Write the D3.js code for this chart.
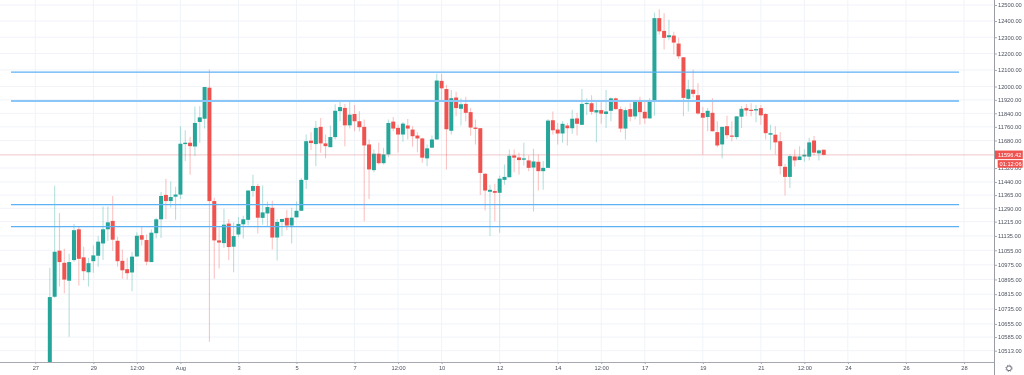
<!DOCTYPE html>
<html>
<head>
<meta charset="utf-8">
<script src="https://cdn.jsdelivr.net/npm/d3@7"></script>
<style>
  html, body { margin: 0; padding: 0; background: #fff; overflow: hidden; }
  svg { display: block; font-family: "Liberation Sans", Arial, sans-serif; }
</style>
</head>
<body>
<div id="chart"></div>
<script>
// 4h candles, first one is 27 Jul 12:00
const firstCandle = "2020-07-27T12:00:00";
const opens = [10400,10801,11053,10986,10888,11001,11172,11016,10934,10995,11025,11093,11172,11219,11108,10997,10951,10933,11021,11139,11112,10990,11150,11228,11366,11331,11356,11368,11659,11667,11645,11789,11808,11993,11331,11110,11095,11204,11075,11143,11200,11225,11389,11417,11236,11261,11293,11126,11213,11236,11193,11239,11276,11452,11679,11659,11760,11663,11641,11700,11853,11872,11769,11836,11793,11760,11657,11508,11603,11548,11599,11791,11754,11715,11768,11744,11709,11692,11576,11638,11686,12034,11985,11737,11934,11867,11896,11847,11756,11752,11487,11384,11388,11378,11452,11467,11593,11581,11568,11564,11523,11556,11502,11521,11799,11744,11721,11768,11752,11810,11772,11896,11900,11845,11859,11836,11855,11929,11865,11750,11865,11822,11915,11849,11810,11915,12418,12339,12300,12310,12261,12177,11926,11981,11948,11842,11818,11843,11729,11657,11764,11709,11700,11820,11871,11861,11857,11871,11836,11714,11714,11676,11527,11469,11587,11566,11587,11586,11680,11605,11626];
const highs = [10959,11418,11263,11064,11036,11202,11191,11075,11014,11082,11134,11300,11300,11360,11130,11060,11014,11045,11156,11189,11143,11171,11237,11382,11459,11442,11413,11764,11740,11702,11880,11884,11997,12102,11350,11182,11287,11230,11210,11241,11248,11391,11481,11430,11420,11328,11333,11230,11230,11282,11293,11328,11463,11715,11729,11795,11812,11715,11768,11894,11909,11896,11915,11890,11853,11803,11686,11628,11667,11638,11803,11818,11773,11789,11807,11764,11729,11696,11657,11709,12077,12077,12010,11979,11969,11929,11938,11871,11803,11754,11492,11424,11430,11477,11541,11628,11628,11609,11667,11593,11632,11599,11560,11807,11851,11783,11793,11783,11861,11843,11985,11929,11948,11913,11913,11979,11934,11934,11880,11874,11900,11915,11938,11919,11929,12453,12474,12449,12408,12333,12296,12179,12040,12102,12020,11877,11871,11929,11793,11760,11826,11793,11822,11884,11896,11900,11890,11890,11842,11773,11764,11729,11545,11599,11628,11647,11628,11696,11706,11628,11628];
const lows = [10380,10794,10857,10820,10587,10992,10862,10890,10857,10931,10964,11001,11106,11051,10964,10899,10894,10831,11020,11082,10973,10990,11121,11123,11230,11294,11226,11343,11560,11481,11589,11667,11750,10560,10899,10955,11069,11001,10934,11128,11121,11195,11356,11149,11198,11189,11060,10999,11134,11167,11093,11239,11276,11399,11624,11531,11609,11576,11641,11686,11793,11647,11750,11734,11733,11217,11343,11496,11541,11541,11583,11734,11609,11673,11686,11644,11612,11551,11531,11634,11686,11909,11512,11715,11822,11768,11793,11709,11657,11366,11278,11134,11217,11153,11424,11467,11496,11483,11535,11502,11272,11391,11395,11521,11715,11657,11667,11651,11719,11709,11772,11828,11832,11670,11779,11754,11793,11861,11729,11686,11793,11803,11773,11779,11810,11826,12316,12224,12281,12194,12167,11822,11851,11934,11832,11599,11734,11734,11640,11576,11692,11676,11686,11754,11822,11822,11787,11773,11686,11624,11599,11483,11362,11405,11529,11566,11557,11564,11593,11564,11593];
const closes = [10799,11047,10990,10894,10990,11167,11008,10940,10984,11027,11103,11172,11211,11114,10995,10945,10929,11020,11136,11114,10992,11153,11228,11360,11331,11354,11368,11661,11667,11647,11783,11816,11997,11331,11110,11098,11198,11073,11134,11202,11228,11391,11417,11237,11267,11297,11126,11213,11230,11193,11237,11276,11452,11676,11665,11754,11663,11647,11700,11855,11877,11769,11832,11793,11758,11651,11512,11603,11548,11599,11783,11750,11715,11779,11750,11705,11692,11580,11634,11686,12036,11989,11746,11930,11871,11894,11843,11756,11748,11492,11391,11395,11378,11459,11469,11591,11580,11566,11576,11521,11558,11502,11521,11797,11740,11721,11778,11752,11808,11778,11896,11902,11849,11859,11838,11851,11929,11865,11750,11859,11820,11915,11847,11810,11909,12418,12336,12296,12312,12267,12183,11932,11983,11956,11839,11814,11855,11734,11651,11760,11711,11704,11822,11867,11857,11857,11865,11828,11723,11723,11669,11531,11469,11589,11564,11587,11597,11669,11609,11622,11596];

// horizontal levels drawn on the chart
const levels = [12087, 11913, 11311, 11187];

const priceTicks = [12500,12400,12300,12200,12100,12000,11920,11840,11760,11680,11520,11440,11365,11290,11215,11135,11055,10975,10895,10815,10735,10655,10585,10513];
const lastPrice = 11596.42;
const countdown = "01:12:06";

const timeTicks = [
  ["2020-07-27", "27"], ["2020-07-29", "29"], ["2020-07-30T12:00:00", "12:00"],
  ["2020-08-01", "Aug"], ["2020-08-03", "3"], ["2020-08-05", "5"], ["2020-08-07", "7"],
  ["2020-08-08T12:00:00", "12:00"], ["2020-08-10", "10"], ["2020-08-12", "12"],
  ["2020-08-14", "14"], ["2020-08-15T12:00:00", "12:00"], ["2020-08-17", "17"],
  ["2020-08-19", "19"], ["2020-08-21", "21"], ["2020-08-22T12:00:00", "12:00"],
  ["2020-08-24", "24"], ["2020-08-26", "26"], ["2020-08-28", "28"]
];

const width = 1024, height = 375;
const axisX = 994.5, axisY = 362.5;
const up = "#26a69a", down = "#ef5350";
const labelSize = 5.7;

const x = d3.scaleTime()
  .domain([new Date("2020-07-27T00:00:00"), new Date("2020-08-28T00:00:00")])
  .range([35.3, 964]);
const y = d3.scaleLog()
  .domain([12500, 10513])
  .range([5, 350.7]);

const svg = d3.select("#chart").append("svg")
  .attr("width", width)
  .attr("height", height)
  .style("filter", "blur(0.45px)");

svg.append("clipPath").attr("id", "plot")
  .append("rect").attr("width", axisX).attr("height", axisY);

// grid
svg.append("g").selectAll("line").data(priceTicks.concat([lastPrice])).join("line")
  .attr("x1", 0).attr("x2", axisX)
  .attr("y1", d => y(d)).attr("y2", d => y(d))
  .attr("stroke", "#f1f3f9");
svg.append("g").selectAll("line").data(timeTicks).join("line")
  .attr("x1", d => x(new Date(d[0]))).attr("x2", d => x(new Date(d[0])))
  .attr("y1", 0).attr("y2", axisY)
  .attr("stroke", "#eff4f9");

const candles = opens.map((o, i) => ({
  date: d3.timeHour.offset(new Date(firstCandle), i * 4),
  open: o, high: highs[i], low: lows[i], close: closes[i]
}));

const plot = svg.append("g").attr("clip-path", "url(#plot)");

// wicks
plot.selectAll("line.wick").data(candles).join("line")
  .attr("class", "wick")
  .attr("x1", d => x(d.date)).attr("x2", d => x(d.date))
  .attr("y1", d => y(d.high)).attr("y2", d => y(d.low))
  .attr("stroke", d => d.close >= d.open ? up : down)
  .attr("stroke-opacity", 0.34)
  .attr("stroke-width", 1.1);

// bodies
plot.selectAll("rect.body").data(candles).join("rect")
  .attr("class", "body")
  .attr("x", d => x(d.date) - 2)
  .attr("width", 4)
  .attr("y", d => y(Math.max(d.open, d.close)))
  .attr("height", d => Math.max(1.2, Math.abs(y(d.open) - y(d.close))))
  .attr("fill", d => d.close >= d.open ? up : down);

// levels
svg.append("g").selectAll("line").data(levels).join("line")
  .attr("x1", 11).attr("x2", 959)
  .attr("y1", d => y(d)).attr("y2", d => y(d))
  .attr("stroke", (d, i) => i === 1 ? "#8ac6f8" : "#5db1f5")
  .attr("stroke-width", (d, i) => i === 1 ? 2 : 1.4);

// last price line
svg.append("line")
  .attr("x1", 0).attr("x2", axisX)
  .attr("y1", y(lastPrice)).attr("y2", y(lastPrice))
  .attr("stroke", down).attr("stroke-opacity", 0.22)
  .attr("stroke-width", 1.1);

// axis frame
svg.append("line").attr("x1", 0).attr("x2", axisX).attr("y1", axisY).attr("y2", axisY)
  .attr("stroke", "#a6a9b0");
svg.append("line").attr("x1", axisX).attr("x2", axisX).attr("y1", 0).attr("y2", height)
  .attr("stroke", "#9a9da6");

// price axis
const right = svg.append("g")
  .attr("transform", `translate(${axisX},0)`)
  .call(d3.axisRight(y).tickValues(priceTicks).tickFormat(d3.format(".2f")).tickSize(2.5).tickPadding(1));
right.select(".domain").remove();
right.selectAll(".tick line").attr("stroke", "#a6a9b0");
right.selectAll(".tick text").attr("font-size", labelSize).attr("fill", "#4c525e").attr("font-family", "inherit");

// time axis
const bottom = svg.append("g")
  .attr("transform", `translate(0,${axisY})`)
  .call(d3.axisBottom(x)
    .tickValues(timeTicks.map(d => new Date(d[0])))
    .tickFormat((d, i) => timeTicks[i][1])
    .tickSize(1.5).tickPadding(1.5));
bottom.select(".domain").remove();
bottom.selectAll(".tick line").attr("stroke", "#a6a9b0");
bottom.selectAll(".tick text").attr("font-size", labelSize).attr("fill", "#4c525e").attr("font-family", "inherit");

// last price tag and countdown
const tag = svg.append("g");
tag.append("rect").attr("x", 995).attr("y", y(lastPrice) - 4.3).attr("width", 27.8).attr("height", 8.6).attr("fill", down);
tag.append("text").attr("x", 998).attr("y", y(lastPrice) + 2)
  .attr("font-size", labelSize).attr("fill", "#fff").text(lastPrice.toFixed(2));
tag.append("rect").attr("x", 997.7).attr("y", y(lastPrice) + 5.3).attr("width", 25).attr("height", 7.6).attr("fill", down);
tag.append("text").attr("x", 999.5).attr("y", y(lastPrice) + 11.1)
  .attr("font-size", labelSize).attr("fill", "#fff").text(countdown);

// settings gear
const gear = svg.append("g").attr("transform", "translate(1009,368.3)");
gear.append("circle").attr("r", 2.4).attr("fill", "none").attr("stroke", "#6a6d78").attr("stroke-width", 1);
gear.append("circle").attr("r", 3.2).attr("fill", "none").attr("stroke", "#6a6d78").attr("stroke-width", 0.8).attr("stroke-dasharray", "1.2 1.31");
</script>
</body>
</html>
